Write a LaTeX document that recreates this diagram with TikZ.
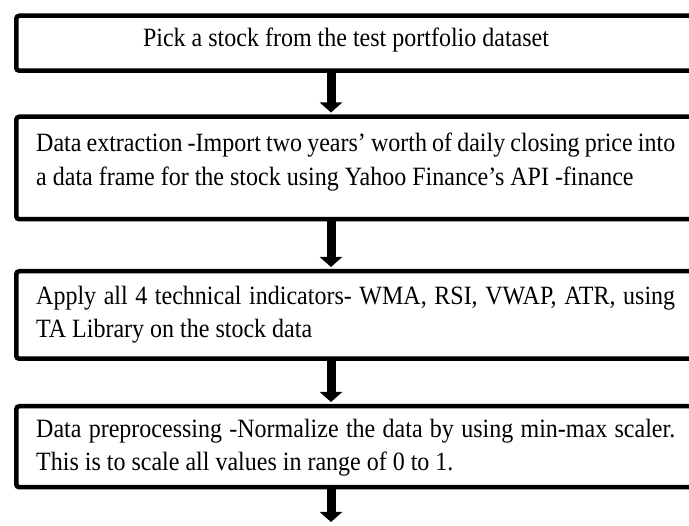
\documentclass[tikz,border=0pt]{standalone}
\usepackage{graphicx}
\usepackage{fontspec}
\setmainfont{Liberation Serif}
\usetikzlibrary{arrows.meta}
\tikzset{
  box/.style={draw, line width=4.5pt, rounded corners=3pt, rectangle, anchor=north west, minimum width=686pt, inner sep=0pt},
  txt/.style={inner sep=0pt, font=\fontsize{24}{34}\selectfont},
  arr/.style={line width=9pt, -{Triangle[width=22pt,length=10pt]}, shorten >=2pt},
}
\newcommand{\jline}[1]{\scalebox{1}[1.1]{\makebox[639pt][s]{#1}}}
\newcommand{\tline}[1]{\scalebox{1}[1.1]{#1}}
\begin{document}
\begin{tikzpicture}[x=1pt,y=-1pt]
\useasboundingbox (0,0) rectangle (689,526);
\clip (0,0) rectangle (689,526);
\node[box, minimum height=55pt] (b1) at (14,13.5) {};
\node[box, minimum height=102.5pt] (b2) at (14,114.5) {};
\node[box, minimum height=87.5pt] (b3) at (14,269) {};
\node[box, minimum height=81pt] (b4) at (14,404) {};
\node[txt, anchor=base] (t1) at (346,47) {\tline{Pick a stock from the test portfolio dataset}};
\node[txt, anchor=base west] (t2a) at (36,152) {\jline{Data extraction -Import two years’ worth of daily closing price into}};
\node[txt, anchor=base west] (t2b) at (36,186) {\tline{a data frame for the stock using Yahoo Finance’s API -finance}};
\node[txt, anchor=base west] (t3a) at (36,305) {\jline{Apply all 4 technical indicators- WMA, RSI, VWAP, ATR, using}};
\node[txt, anchor=base west] (t3b) at (36,338) {\tline{TA Library on the stock data}};
\node[txt, anchor=base west] (t4a) at (36,438) {\jline{Data preprocessing -Normalize the data by using min-max scaler.}};
\node[txt, anchor=base west] (t4b) at (36,471) {\tline{This is to scale all values in range of 0 to 1.}};
\coordinate (ax) at (331,0);
\coordinate (endpt) at (331,524);
\draw[arr] (b1.south -| ax) -- (b2.north -| ax);
\draw[arr] (b2.south -| ax) -- (b3.north -| ax);
\draw[arr] (b3.south -| ax) -- (b4.north -| ax);
\draw[arr] (b4.south -| ax) -- (endpt);
\end{tikzpicture}
\end{document}
